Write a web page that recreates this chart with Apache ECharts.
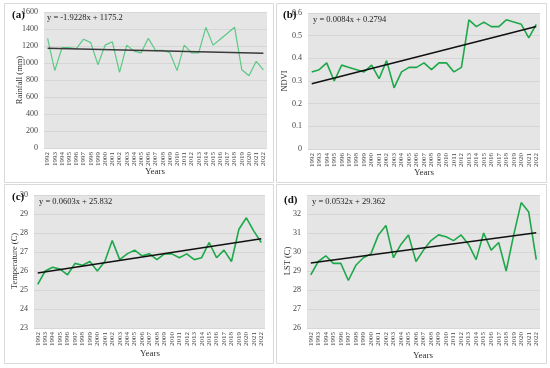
<!DOCTYPE html>
<html><head><meta charset="utf-8">
<script src="https://cdn.jsdelivr.net/npm/echarts@6/dist/echarts.min.js"></script>
<style>html,body{margin:0;padding:0;background:#fff}#c{width:550px;height:368px}</style>
</head><body><div id="c"></div>
<script>
var years = ['1992','1993','1994','1995','1996','1997','1998','1999','2000','2001','2002','2003','2004','2005','2006','2007','2008','2009','2010','2011','2012','2013','2014','2015','2016','2017','2018','2019','2020','2021','2022'];
var rainfall = [1290,910,1180,1180,1170,1280,1240,980,1210,1250,890,1210,1140,1120,1290,1150,1150,1120,910,1210,1120,1120,1420,1210,1280,1350,1420,920,850,1020,920];
var ndvi = [0.34,0.35,0.38,0.30,0.37,0.36,0.35,0.34,0.37,0.31,0.39,0.27,0.34,0.36,0.36,0.38,0.35,0.38,0.38,0.34,0.36,0.57,0.54,0.56,0.54,0.54,0.57,0.56,0.55,0.49,0.55];
var temperature = [25.3,26.0,26.2,26.1,25.8,26.4,26.3,26.5,26.0,26.5,27.6,26.6,26.9,27.1,26.8,26.9,26.6,26.9,26.9,26.7,26.9,26.6,26.7,27.5,26.7,27.1,26.5,28.2,28.8,28.1,27.5];
var lst = [28.8,29.5,29.8,29.4,29.4,28.5,29.3,29.7,29.9,30.9,31.4,29.7,30.4,30.9,29.5,30.1,30.6,30.9,30.8,30.6,30.9,30.4,29.6,31.0,30.1,30.5,29.0,30.9,32.6,32.1,29.6];
// trend line end values (first year, last year), as shown by the fitted lines
var trendRain = [1173.3, 1115.6];
var trendNdvi = [0.288, 0.540];
var trendTemp = [25.89, 27.70];
var trendLst = [29.42, 31.01];
var equations = ['y = -1.9228x + 1175.2','y = 0.0084x + 0.2794','y = 0.0603x + 25.832','y = 0.0532x + 29.362'];
var panelLabels = ['(a)','(b)','(c)','(d)'];
var yNames = ['Rainfall (mm)','NDVI','Temperature (C)','LST (C)'];
var xName = 'Years';

var serif = '"Liberation Serif","DejaVu Serif",serif';
var chart = echarts.init(document.getElementById('c'));
var grids = [
  {left:44, top:12, width:223, height:136},
  {left:308, top:13, width:232, height:136},
  {left:34, top:195, width:231, height:133},
  {left:307, top:195, width:233, height:133}
];
var yCfg = [
  {min:0,max:1600,interval:200},
  {min:0,max:0.6,interval:0.1},
  {min:23,max:30,interval:1},
  {min:26,max:33,interval:1,hideMax:true}
];
var dataSets = [rainfall, ndvi, temperature, lst];
var trends = [trendRain, trendNdvi, trendTemp, trendLst];
var lineColors = ['#5cc985','#1fa84a','#1fa84a','#1fa84a'];
var trendColors = ['#3a3a3a','#111','#111','#111'];

var option = {
  animation:false,
  backgroundColor:'#fff',
  grid: grids.map(function(g){return Object.assign({backgroundColor:'#e5e5e5', show:true, borderWidth:0}, g);}),
  xAxis: grids.map(function(g,i){return {
    type:'category', gridIndex:i, data:years, boundaryGap:true,
    axisLine:{show:false}, axisTick:{show:false},
    axisLabel:{rotate:90, interval:0, fontSize:7, fontFamily:serif, color:'#444', margin:4}
  };}),
  yAxis: yCfg.map(function(c,i){return {
    type:'value', gridIndex:i, min:c.min, max:c.max, interval:c.interval,
    axisLine:{show:false}, axisTick:{show:false},
    splitLine:{show:true, lineStyle:{color:'#d6d6d6', width:1}},
    axisLabel:{fontSize:8, fontFamily:serif, color:'#444', margin:6, showMaxLabel: !c.hideMax,
      formatter:function(v){return String(v);}}
  };}),
  series: []
};
dataSets.forEach(function(d,i){
  option.series.push({type:'line', xAxisIndex:i, yAxisIndex:i, data:d, symbol:'none',
    lineStyle:{color:lineColors[i], width: i===0?1.2:1.6}, z:3});
  var t = years.map(function(){return null;});
  t[0] = trends[i][0]; t[t.length-1] = trends[i][1];
  option.series.push({type:'line', xAxisIndex:i, yAxisIndex:i, data:t, connectNulls:true, symbol:'none',
    lineStyle:{color:trendColors[i], width:1.5}, z:4});
});
var boxes = [[4,3,269,179],[276,3,270,179],[4,184,269,179],[276,184,270,179]];
var graphics = [];
boxes.forEach(function(b){
  graphics.push({type:'rect', shape:{x:b[0]+0.5,y:b[1]+0.5,width:b[2],height:b[3]}, style:{fill:null, stroke:'#d9d9d9', lineWidth:1}, z:-1});
});
var labelPos = [[12,10],[283,10],[12,192],[284,195]];
panelLabels.forEach(function(l,i){
  graphics.push({type:'text', x:labelPos[i][0], y:labelPos[i][1], style:{text:l, font:'bold 11px '+serif, fill:'#111'}, z:10});
});
var eqPos = [[47,13],[313,15],[39,197],[312,197]];
equations.forEach(function(e,i){
  graphics.push({type:'text', x:eqPos[i][0], y:eqPos[i][1], style:{text:e, font:'8.5px '+serif, fill:'#222'}, z:10});
});
var yNamePos = [[20,80],[285,81],[15,261],[288,261]];
yNames.forEach(function(n,i){
  graphics.push({type:'text', x:yNamePos[i][0], y:yNamePos[i][1], rotation:Math.PI/2,
    style:{text:n, font:'8.5px '+serif, fill:'#333', textAlign:'center', textVerticalAlign:'middle'}, z:10});
});
var xNamePos = [[155,172],[424,173],[150,354],[423,356]];
xNamePos.forEach(function(p){
  graphics.push({type:'text', x:p[0], y:p[1],
    style:{text:xName, font:'9px '+serif, fill:'#333', textAlign:'center', textVerticalAlign:'middle'}, z:10});
});
option.graphic = graphics;
chart.setOption(option);
</script></body></html>
